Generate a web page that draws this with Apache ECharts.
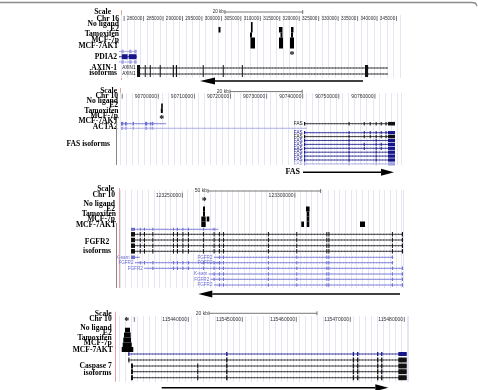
<!DOCTYPE html>
<html><head><meta charset="utf-8">
<script src="https://cdn.jsdelivr.net/npm/echarts@6/dist/echarts.min.js"></script>
<style>html,body{margin:0;padding:0;background:#fff}#c{width:478px;height:390px}</style>
</head><body><div id="c"></div>
<script>
// ================= DATA =================
// Panel 1 : AXIN-1 (Chr 16)
const p1Labels = ['Scale','Chr 16','No ligand','E2','Tamoxifen','MCF-7p','MCF-7AKT','PDIA2','AXIN-1','isoforms'];
const p1Ticks = [275000,280000,285000,290000,295000,300000,305000,310000,315000,320000,325000,330000,335000,340000,345000];
const p1TickLabels = ['','280000','285000','290000','295000','300000','305000','310000','315000','320000','325000','330000','335000','340000','345000'];
const p1Scale = [300900, 320900];
const p1ScaleLabel = '20 kb';
// [start, end, track] track: 0 No ligand,1 E2,2 Tamoxifen,3 MCF-7p,4 MCF-7AKT
const p1Peaks = [
  [299260,299770,1],
  [307610,308000,0],[307610,308000,1],[307350,307870,2],[307480,308640,3],[307480,308640,4],
  [314800,315700,1],[315190,315700,2],[314800,315830,3],[314800,315830,4],
  [317890,318530,1],[317890,318400,2],[317630,318660,3],[317630,318660,4]
];
const p1Stars = [318150];
// [txStart, txEnd, row, name, exonSet]
const p1Genes = [
  [273700,278300,0,'','pdiaOuter'],
  [273700,278300,1,'','pdiaMid'],
  [273700,278300,2,'','pdiaOuter'],
  [278310,342820,3,'AXIN1','axin'],
  [278310,342820,4,'AXIN1','axin']
];
const p1Exons = {
  pdiaOuter: [[274300,274900],[276300,276900],[277600,278200]],
  pdiaMid: [[274400,275900],[276200,278200]],
  axin: [[278310,279080],[280300,280500],[281600,281750],[284150,284350],[287500,287800],[288300,288600],[295200,295400],[300350,300500],[305250,305400],[336900,337700]]
};
const p1Arrow = [336400, 294500];
const p1ArrowLabel = '';

// Panel 2 : FAS (Chr 10)
const p2Labels = ['Scale','Chr 10','No ligand','E2','Tamoxifen','MCF-7p','MCF-7AKT','ACTA2','FAS isoforms'];
const p2Ticks = [90690000,90700000,90710000,90720000,90730000,90740000,90750000,90760000];
const p2TickLabels = ['','90700000','90710000','90720000','90730000','90740000','90750000','90760000'];
const p2Scale = [90719860, 90739860];
const p2ScaleLabel = '20 kb';
const p2Peaks = [[90700800,90701050,1],[90700700,90701250,2]];
const p2Stars = [90700950];
const p2Genes = [
  [90689660,90702160,0,'','acta'],
  [90740360,90765570,0,'FAS','fasFull'],
  [90689660,90741190,1,'','acta'],
  [90740360,90765570,2,'FAS','fasFull'],
  [90740360,90765570,3,'FAS','fasFull'],
  [90740360,90765570,4,'FAS','fasShort'],
  [90740360,90765570,5,'FAS','fasMid'],
  [90740360,90765570,6,'FAS','fasMid'],
  [90740360,90765570,7,'FAS','fasShort'],
  [90740360,90765570,8,'FAS','fasShort'],
  [90740360,90765570,9,'FAS','fasShort'],
  [90740360,90765570,10,'FAS','fasShort']
];
const p2Exons = {
  acta: [[90689660,90690300],[90690780,90691250],[90692910,90693270],[90696320,90696950],[90697650,90697900],[90698170,90698620]],
  fasFull: [[90740360,90740700],[90752700,90752950],[90756900,90757100],[90758550,90758750],[90760200,90760400],[90761600,90761800],[90762950,90763150],[90763630,90765570]],
  fasMid: [[90740360,90740700],[90752700,90752950],[90756900,90757100],[90760200,90760400],[90761600,90761800],[90763630,90765570]],
  fasShort: [[90740360,90740700],[90752700,90752950],[90760200,90760400],[90763630,90765570]]
};
const p2Arrow = [90740080, 90765300];
const p2ArrowLabel = 'FAS';

// Panel 3 : FGFR2 (Chr 10)
const p3Labels = ['Scale','Chr 10','No ligand','E2','Tamoxifen','MCF-7p','MCF-7AKT','FGFR2','isoforms'];
const p3Ticks = [123250000,123300000];
const p3TickLabels = ['123250000','123300000'];
const p3Scale = [123261400, 123311400];
const p3ScaleLabel = '50 kb';
const p3Peaks = [
  [123259190,123260080,1],[123259190,123260080,2],[123258430,123260390,3],[123260830,123261990,3],[123258430,123260390,4],
  [123304900,123306500,1],[123305220,123306380,2],[123305220,123306380,3],[123305220,123306380,4],
  [123302820,123304020,4],
  [123328880,123331100,4]
];
const p3Stars = [123259770];
const p3Genes = [
  [123227230,123265980,0,'','fgfr'],
  [123227230,123347970,1,'','fgfr'],
  [123227230,123347970,2,'','fgfr'],
  [123227230,123347970,3,'','fgfr'],
  [123227230,123347970,4,'','fgfr'],
  [123227230,123231220,5,'K-sam','fgfr'],
  [123264070,123343670,5,'FGFR2','fgfr'],
  [123229000,123267490,6,'FGFR2','fgfr'],
  [123264070,123343670,6,'FGFR2','fgfr'],
  [123233130,123347970,7,'FGFR2','fgfr'],
  [123261750,123347970,8,'K-sam','fgfr'],
  [123262600,123347970,9,'FGFR2','fgfr'],
  [123264070,123347970,10,'FGFR2','fgfr']
];
const p3Exons = {
  fgfr: [[123227230,123229000],[123231100,123231400],[123233000,123233300],[123236700,123237000],[123245850,123246150],[123247650,123247950],[123250050,123250350],[123252500,123252800],[123259150,123259450],[123263900,123264200],[123266250,123266550],[123268050,123268350],[123288000,123288300],[123300600,123300900],[123313950,123314250],[123314850,123315150],[123343050,123343350],[123347500,123347970]]
};
const p3Arrow = [123346640, 123257100];
const p3ArrowLabel = '';

// Panel 4 : Caspase 7 (Chr 10)
const p4Labels = ['Scale','Chr 10','No ligand','E2','Tamoxifen','MCF-7p','MCF-7AKT','Caspase 7','isoforms'];
const p4Ticks = [115430000,115440000,115450000,115460000,115470000,115480000];
const p4TickLabels = ['','115440000','115450000','115460000','115470000','115480000'];
const p4Scale = [115443830, 115463830];
const p4ScaleLabel = '20 kb';
const p4Peaks = [
  [115428280,115429200,0],[115428090,115429330,1],[115427960,115429390,2],[115427850,115429520,3],[115427670,115429810,4]
];
const p4Stars = [115428590];
const p4Genes = [
  [115428890,115480450,0,'','caspA'],
  [115428890,115480450,1,'','caspA'],
  [115429390,115480450,2,'','caspB'],
  [115429390,115480450,3,'','caspB'],
  [115429390,115480450,4,'','caspB']
];
const p4Exons = {
  caspA: [[115428890,115429100],[115447000,115447250],[115470450,115470700],[115471250,115471500],[115474950,115475200],[115475700,115475950],[115478890,115480450]],
  caspB: [[115429390,115429760],[115441650,115441850],[115447000,115447250],[115470450,115470700],[115471250,115471500],[115474950,115475200],[115475700,115475950],[115478890,115480450]]
};
const p4Arrow = [115435070, 115477040];
const p4ArrowLabel = '';

// ================= LAYOUT / STYLE =================
const PANELS = [
  {labels:p1Labels,ticks:p1Ticks,tickLabels:p1TickLabels,scale:p1Scale,scaleLabel:p1ScaleLabel,peaks:p1Peaks,stars:p1Stars,genes:p1Genes,exons:p1Exons,arrow:p1Arrow,arrowLabel:p1ArrowLabel},
  {labels:p2Labels,ticks:p2Ticks,tickLabels:p2TickLabels,scale:p2Scale,scaleLabel:p2ScaleLabel,peaks:p2Peaks,stars:p2Stars,genes:p2Genes,exons:p2Exons,arrow:p2Arrow,arrowLabel:p2ArrowLabel},
  {labels:p3Labels,ticks:p3Ticks,tickLabels:p3TickLabels,scale:p3Scale,scaleLabel:p3ScaleLabel,peaks:p3Peaks,stars:p3Stars,genes:p3Genes,exons:p3Exons,arrow:p3Arrow,arrowLabel:p3ArrowLabel},
  {labels:p4Labels,ticks:p4Ticks,tickLabels:p4TickLabels,scale:p4Scale,scaleLabel:p4ScaleLabel,peaks:p4Peaks,stars:p4Stars,genes:p4Genes,exons:p4Exons,arrow:p4Arrow,arrowLabel:p4ArrowLabel}
];
const BK='#111', NAVY='#17178c', BLUE='#6c6cd2', LAV='#a2a2e2';
const LAYOUT = [
  {left:121, top:15, width:279, height:63, xMin:274200, xMax:345900, guide:1667, tickFont:4.6,
   yScale:12, yChr:18.6, starY:54, arrowY:81, headLen:15, headW:3.4,
   tracks:[[22,27],[27,32.5],[32.5,37.5],[37.5,43],[43,48.5]],
   rows:[51.5,56.7,62,68,74], exonH:[3.5,5,3.5,6,6],
   colors:[LAV,NAVY,LAV,BK,BK],
   labelPos:[[111,12.3,'right'],[119,18.8,'right'],[119,24.2,'right'],[119,28.9,'right'],[119,34,'right'],[119,40.5,'right'],[118.5,46.5,'right'],[117,56.7,'right'],[117,67.7,'right'],[117,73.5,'right']],
   red:[121,10,80], gray:null},
  {left:120, top:93, width:281.7, height:72, xMin:90689390, xMax:90767420, guide:1667, tickFont:5,
   yScale:91.6, yChr:96.3, starY:118, arrowY:172.3, headLen:13, headW:3.5,
   tracks:[[98.5,103.5],[103.5,108.3],[108.3,113],[113,118],[118,122]],
   rows:[123.7,128.3,132.7,136.6,140.5,144.4,148.3,152.2,156.1,160,163.9], exonH:[3.6,3,3.3,3.3,3.3,3.3,3.3,3.3,3.3,3.3,3.3],
   colors:[BLUE,BK,LAV,NAVY,BK,NAVY,NAVY,NAVY,NAVY,NAVY,NAVY,LAV],
   labelPos:[[117,91,'right'],[118,96,'right'],[118,100.7,'right'],[118,105.5,'right'],[118.5,110.7,'right'],[118,115.7,'right'],[118.5,121.5,'right'],[117.5,126.7,'right'],[110,144,'right']],
   red:[120,88,165], gray:[116,122,165]},
  {left:120, top:190, width:283, height:98, xMin:123222345, xMax:123347970, guide:2500, tickFont:5,
   yScale:191, yChr:195.3, starY:199.5, arrowY:294, headLen:14, headW:3.5,
   tracks:[[201.5,206.5],[206.5,211.5],[211.5,216.5],[216.5,221.5],[221.5,227]],
   rows:[229.3,234.3,240,245.7,251.3,257.3,262.7,268.3,274,279.3,285], exonH:[3,4.5,4.5,4.5,4.5,3.5,3.5,3.5,3.5,3.5,3.5],
   colors:[BLUE,BK,BK,BK,BK,BLUE,BLUE,BLUE,BLUE,BLUE,BLUE,BLUE,BLUE],
   labelPos:[[114,189.3,'right'],[115,195.3,'right'],[115,204,'right'],[115,208.7,'right'],[116,214,'right'],[115,219,'right'],[116,224.7,'right'],[97,241.7,'center'],[97,251,'center']],
   red:[119,188,288], gray:[116,223,288]},
  {left:119.3, top:316, width:289, height:66, xMin:115427220, xMax:115480740, guide:1111, tickFont:5,
   yScale:313.3, yChr:319.5, starY:320, arrowY:387.7, headLen:13, headW:3.5,
   tracks:[[327.7,332.5],[332.5,337.5],[337.5,342.5],[342.5,347],[347,352]],
   rows:[354,360,366,371.7,377.7], exonH:[4,5,5,5,5],
   colors:[NAVY,BK,BK,BK,BK],
   labelPos:[[111.7,314,'right'],[111.7,319.3,'right'],[111.7,328.3,'right'],[111.7,333.3,'right'],[111.7,338.3,'right'],[111.7,343.3,'right'],[112.7,350,'right'],[111.7,366,'right'],[97.5,372.7,'center']],
   red:[115,311.7,381.7], gray:null}
];
const LABEL_FONT = {fontFamily:'Liberation Serif', fontWeight:'bold', fontSize:7.6, fill:'#000'};

// ================= BUILD =================
const grid=[], xAxis=[], yAxis=[], series=[], graphic=[];
PANELS.forEach((P,i)=>{
  const L = LAYOUT[i];
  grid.push({left:L.left, top:L.top, width:L.width, height:L.height});
  xAxis.push({type:'value', gridIndex:i, min:L.xMin, max:L.xMax, interval:L.guide,
    axisLine:{show:false}, axisTick:{show:false}, axisLabel:{show:false},
    splitLine:{show:true, lineStyle:{color:'#e4e6f4', width:1}}});
  yAxis.push({type:'value', gridIndex:i, min:L.top, max:L.top+L.height, inverse:true, show:false});
  const base = {type:'custom', xAxisIndex:i, yAxisIndex:i, clip:false, silent:true, animation:false};

  // ruler ticks
  series.push(Object.assign({}, base, {
    data: P.ticks.map((v,k)=>[v,k]),
    renderItem:(params, api)=>{
      const p = api.coord([api.value(0), L.yChr]);
      const k = api.value(1);
      return {type:'group', children:[
        {type:'line', shape:{x1:p[0],y1:p[1]-2.6,x2:p[0],y2:p[1]+2.4}, style:{stroke:'#444',lineWidth:0.7}},
        {type:'text', style:{text:P.tickLabels[k], x:p[0]-1.3, y:p[1], align:'right', verticalAlign:'middle',
          fontSize:L.tickFont, fontFamily:'Liberation Sans', fill:'#333'}}
      ]};
    }
  }));
  // scale bar
  series.push(Object.assign({}, base, {
    data:[P.scale],
    renderItem:(params, api)=>{
      const a = api.coord([api.value(0), L.yScale]);
      const b = api.coord([api.value(1), L.yScale]);
      return {type:'group', children:[
        {type:'line', shape:{x1:a[0],y1:a[1],x2:b[0],y2:b[1]}, style:{stroke:'#555',lineWidth:0.8}},
        {type:'line', shape:{x1:a[0],y1:a[1]-2,x2:a[0],y2:a[1]+2}, style:{stroke:'#555',lineWidth:0.8}},
        {type:'line', shape:{x1:b[0],y1:b[1]-2,x2:b[0],y2:b[1]+2}, style:{stroke:'#555',lineWidth:0.8}},
        {type:'text', style:{text:P.scaleLabel, x:a[0]-1, y:a[1], align:'right', verticalAlign:'middle',
          fontSize:L.tickFont, fontFamily:'Liberation Sans', fill:'#333'}}
      ]};
    }
  }));
  // peaks
  series.push(Object.assign({}, base, {
    data:P.peaks,
    renderItem:(params, api)=>{
      const tr = L.tracks[api.value(2)];
      const a = api.coord([api.value(0), tr[0]]);
      const b = api.coord([api.value(1), tr[1]]);
      return {type:'rect', shape:{x:a[0], y:a[1], width:Math.max(b[0]-a[0],1.6), height:b[1]-a[1]}, style:{fill:'#000'}};
    }
  }));
  // stars
  series.push(Object.assign({}, base, {
    data:P.stars.map(v=>[v]),
    renderItem:(params, api)=>{
      const p = api.coord([api.value(0), L.starY]);
      return {type:'text', style:{text:'*', x:p[0], y:p[1]+1.5, align:'center', verticalAlign:'middle',
        fontSize:10, fontFamily:'Liberation Serif', fontWeight:'bold', fill:'#000'}};
    }
  }));
  // genes
  series.push(Object.assign({}, base, {
    data:P.genes.map(g=>[g[0],g[1],g[2]]),
    renderItem:(params, api)=>{
      const g = P.genes[params.dataIndex];
      const row = g[2];
      const y = L.rows[row];
      const col = L.colors[params.dataIndex] || BK;
      const h = L.exonH[row];
      const a = api.coord([g[0], y]);
      const b = api.coord([g[1], y]);
      const ch = [
        {type:'line', shape:{x1:a[0],y1:a[1],x2:b[0],y2:b[1]}, style:{stroke:col,lineWidth:0.8}},
        {type:'line', shape:{x1:a[0],y1:a[1],x2:b[0],y2:b[1]}, style:{stroke:col,lineWidth:2,lineDash:[0.6,2.4],opacity:0.4}}
      ];
      (P.exons[g[4]]||[]).filter(e=>e[0]>=g[0]-1 && e[1]<=g[1]+1).forEach(e=>{
        const p = api.coord([e[0], y]);
        const q = api.coord([e[1], y]);
        ch.push({type:'rect', shape:{x:p[0], y:p[1]-h/2, width:Math.max(q[0]-p[0],1), height:h}, style:{fill:col}});
      });
      if (g[3]) ch.push({type:'text', style:{text:g[3], x:a[0]-1.5, y:a[1], align:'right', verticalAlign:'middle',
        fontSize:4.6, fontFamily:'Liberation Sans', fill:col}});
      return {type:'group', children:ch};
    }
  }));
  // direction arrow
  series.push(Object.assign({}, base, {
    data:[P.arrow],
    renderItem:(params, api)=>{
      const a = api.coord([api.value(0), L.arrowY]);
      const b = api.coord([api.value(1), L.arrowY]);
      const d = b[0] > a[0] ? 1 : -1;
      const hx = b[0] - d*L.headLen;
      const ch = [
        {type:'line', shape:{x1:a[0],y1:a[1],x2:hx,y2:b[1]}, style:{stroke:'#000',lineWidth:1.5}},
        {type:'polygon', shape:{points:[[b[0],b[1]],[hx,b[1]-L.headW],[hx,b[1]+L.headW]]}, style:{fill:'#000'}}
      ];
      if (P.arrowLabel) ch.push({type:'text', style:{text:P.arrowLabel, x:Math.min(a[0],b[0])-3, y:a[1], align:'right', verticalAlign:'middle',
        fontSize:8, fontFamily:'Liberation Serif', fontWeight:'bold', fill:'#000'}});
      return {type:'group', children:ch};
    }
  }));

  // left labels, red/gray border lines
  P.labels.forEach((t,k)=>{
    const pos = L.labelPos[k];
    graphic.push({type:'text', silent:true, style:Object.assign({text:t, x:pos[0], y:pos[1], align:pos[2], verticalAlign:'middle'}, LABEL_FONT)});
  });
  graphic.push({type:'line', silent:true, shape:{x1:L.red[0]+0.5,y1:L.red[1],x2:L.red[0]+0.5,y2:L.red[2]}, style:{stroke:'#efa0a0',lineWidth:1}});
  if (L.gray) graphic.push({type:'line', silent:true, shape:{x1:L.gray[0]+0.5,y1:L.gray[1],x2:L.gray[0]+0.5,y2:L.gray[2]}, style:{stroke:'#888',lineWidth:1}});
});
graphic.push({type:'polyline', silent:true, shape:{points:[[0,2.5],[472,2.5],[475.5,3.2],[477,6]]}, style:{stroke:'#8c8c8c',lineWidth:1.4,fill:null}});

const chart = echarts.init(document.getElementById('c'));
chart.setOption({animation:false, backgroundColor:'#fff', grid, xAxis, yAxis, series, graphic});
</script></body></html>
